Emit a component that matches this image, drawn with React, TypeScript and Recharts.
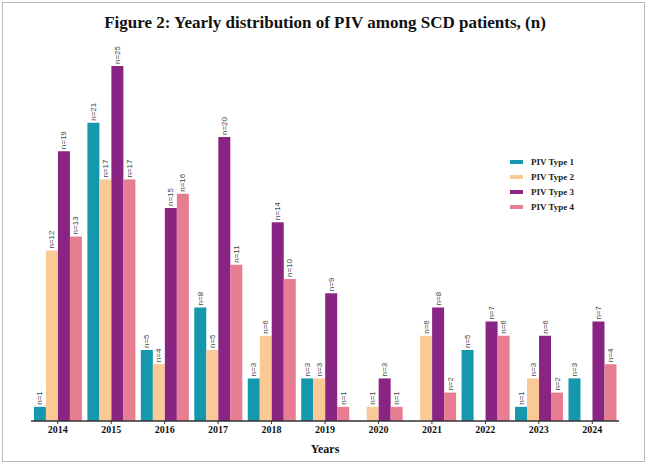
import { BarChart, Bar, XAxis, YAxis, Legend, LabelList } from "recharts";

const years = ["2014", "2015", "2016", "2017", "2018", "2019", "2020", "2021", "2022", "2023", "2024"];
const type1 = [1, 21, 5, 8, 3, 3, 0, 0, 5, 1, 3];
const type2 = [12, 17, 4, 5, 6, 3, 1, 6, 0, 3, 0];
const type3 = [19, 25, 15, 20, 14, 9, 3, 8, 7, 6, 7];
const type4 = [13, 17, 16, 11, 10, 1, 1, 2, 6, 2, 4];

const seriesNames = ["PIV Type 1", "PIV Type 2", "PIV Type 3", "PIV Type 4"];
const colors = ["#1597AE", "#FBC995", "#8A2482", "#E67D90"];

const data = years.map((year, i) => ({
  year,
  t1: type1[i],
  t2: type2[i],
  t3: type3[i],
  t4: type4[i],
}));

const keys = ["t1", "t2", "t3", "t4"];

const serif = '"Liberation Serif", "DejaVu Serif", serif';

const renderLabel = (props: any) => {
  const { x, y, width, value } = props;
  if (!value) return null;
  const cx = x + width / 2;
  const ty = y - 2;
  return (
    <text
      x={cx}
      y={ty}
      transform={`rotate(-90 ${cx} ${ty})`}
      textAnchor="start"
      dominantBaseline="central"
      fontSize={8}
      fontFamily='"Liberation Sans", Arial, sans-serif'
      fill="#444"
    >
      {`n=${value}`}
    </text>
  );
};

const renderLegend = () => (
  <div style={{ fontFamily: serif, fontWeight: "bold", fontSize: 9, color: "#222" }}>
    {seriesNames.map((name, i) => (
      <div key={name} style={{ display: "flex", alignItems: "center", height: 15 }}>
        <span
          style={{
            display: "inline-block",
            width: 13,
            height: 4,
            background: colors[i],
            marginRight: 8,
          }}
        />
        {name}
      </div>
    ))}
  </div>
);

const App = () => {
  return (
    <div
      style={{
        position: "absolute",
        left: 0,
        top: 0,
        width: 650,
        height: 466,
        background: "#fff",
      }}
    >
      <div
        style={{
          position: "absolute",
          left: 2,
          top: 2,
          width: 641,
          height: 458,
          border: "1px solid #b9b9b9",
        }}
      />
      <div
        style={{
          position: "absolute",
          top: 13,
          left: 0,
          width: 650,
          textAlign: "center",
          fontFamily: serif,
          fontWeight: "bold",
          fontSize: 17,
          color: "#111",
        }}
      >
        Figure 2: Yearly distribution of PIV among SCD patients, (n)
      </div>
      <BarChart
        width={650}
        height={466}
        data={data}
        margin={{ top: 66, right: 31, left: 31, bottom: 0 }}
        barCategoryGap="5.5%"
        barGap={0}
      >
        <YAxis hide domain={[0, 25]} />
        <XAxis
          dataKey="year"
          height={45}
          axisLine={{ stroke: "#333", strokeWidth: 1.5 }}
          tickLine={{ stroke: "#333" }}
          tickSize={3}
          tick={{ fill: "#111", fontSize: 10, fontFamily: serif, fontWeight: "bold" }}
          label={{
            value: "Years",
            position: "insideBottom",
            offset: 13,
            fill: "#111",
            fontSize: 12,
            fontFamily: serif,
            fontWeight: "bold",
          }}
        />
        <Legend
          layout="vertical"
          align="center"
          verticalAlign="middle"
          wrapperStyle={{ left: 510, top: 154, width: 100 }}
          content={renderLegend}
        />
        {keys.map((k, i) => (
          <Bar key={k} dataKey={k} name={seriesNames[i]} fill={colors[i]} isAnimationActive={false}>
            <LabelList dataKey={k} content={renderLabel} />
          </Bar>
        ))}
      </BarChart>
    </div>
  );
};

export default App;
